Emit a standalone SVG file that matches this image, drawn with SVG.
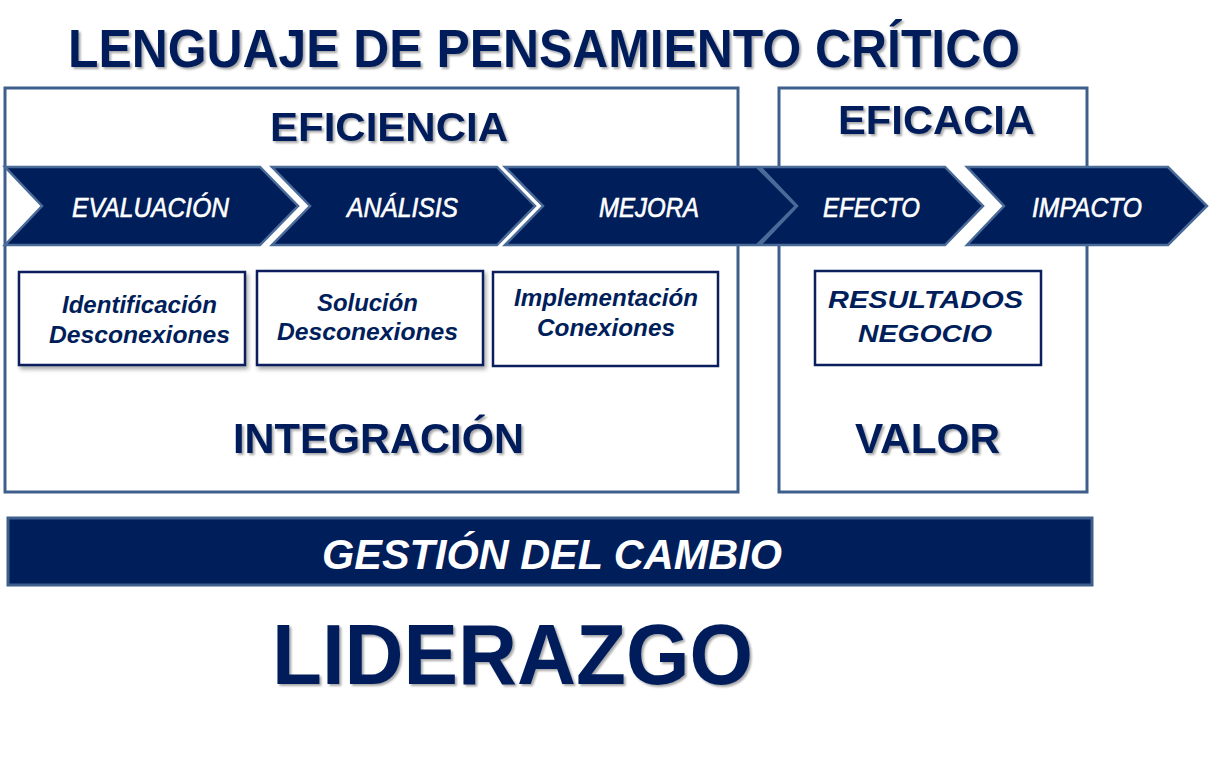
<svg xmlns="http://www.w3.org/2000/svg" width="1210" height="757" viewBox="0 0 1210 757">
<defs>
<filter id="ts" x="-5%" y="-20%" width="110%" height="150%">
<feDropShadow dx="2" dy="2" stdDeviation="1.2" flood-color="#000" flood-opacity="0.35"/>
</filter>
<filter id="bs" x="-5%" y="-5%" width="115%" height="120%">
<feDropShadow dx="2" dy="3" stdDeviation="2" flood-color="#000" flood-opacity="0.35"/>
</filter>
</defs>
<style>
.frame{fill:#fff;stroke:#3E5F8C;stroke-width:3}
.chev{fill:#001E5A;stroke:#4A6A98;stroke-width:2.5;stroke-linejoin:miter}
.box{fill:#fff;stroke:#0A1F5C;stroke-width:2.5}
.head{font-family:"Liberation Sans",Arial,sans-serif;font-weight:bold;fill:#001E5A}
.ct{font-family:"Liberation Sans",Arial,sans-serif;font-style:italic;fill:#fff;font-size:27px;stroke:#fff;stroke-width:0.6}
.bt{font-family:"Liberation Sans",Arial,sans-serif;font-style:italic;font-weight:bold;fill:#001E5A;font-size:23px}
</style>
<rect width="1210" height="757" fill="#fff"/>
<g id="title">
<text class="head" x="68" y="67" font-size="54" textLength="952" lengthAdjust="spacingAndGlyphs" filter="url(#ts)">LENGUAJE DE PENSAMIENTO CRÍTICO</text>
</g>
<g id="eficiencia-frame">
<rect class="frame" x="5" y="88" width="733" height="404"/>
<text class="head" x="270" y="141" font-size="41" textLength="238" lengthAdjust="spacingAndGlyphs" filter="url(#ts)">EFICIENCIA</text>
<text class="head" x="233" y="453" font-size="43" textLength="291" lengthAdjust="spacingAndGlyphs" filter="url(#ts)">INTEGRACIÓN</text>
</g>
<g id="eficacia-frame">
<rect class="frame" x="779" y="88" width="308" height="404"/>
<text class="head" x="838" y="134" font-size="41" textLength="197" lengthAdjust="spacingAndGlyphs" filter="url(#ts)">EFICACIA</text>
<text class="head" x="855" y="453" font-size="43" textLength="145" lengthAdjust="spacingAndGlyphs" filter="url(#ts)">VALOR</text>
</g>
<g id="connectors"></g>
<g id="evaluacion">
<polygon class="chev" points="5,167 260,167 298,206 260,245 5,245 42,206"/>
<text class="ct" x="72" y="217" textLength="157" lengthAdjust="spacingAndGlyphs">EVALUACIÓN</text>
</g>
<g id="analisis">
<polygon class="chev" points="272,167 497,167 535,206 497,245 272,245 310,206"/>
<text class="ct" x="347" y="217" textLength="111" lengthAdjust="spacingAndGlyphs">ANÁLISIS</text>
</g>
<g id="mejora">
<polygon class="chev" points="505,167 757,167 796,206 757,245 505,245 543,206"/>
<text class="ct" x="599" y="217" textLength="100" lengthAdjust="spacingAndGlyphs">MEJORA</text>
</g>
<g id="efecto">
<polygon class="chev" points="760,167 945,167 983,206 945,245 760,245 797,206"/>
<text class="ct" x="823" y="217" textLength="97" lengthAdjust="spacingAndGlyphs">EFECTO</text>
</g>
<g id="impacto">
<polygon class="chev" points="967,167 1168,167 1207,206 1168,245 967,245 1004,206"/>
<text class="ct" x="1032" y="217" textLength="110" lengthAdjust="spacingAndGlyphs">IMPACTO</text>
</g>
<g id="identificacion">
<rect class="box" x="19" y="272" width="226" height="93" filter="url(#bs)"/>
<text class="bt" x="62" y="313" textLength="155" lengthAdjust="spacingAndGlyphs">Identificación</text>
<text class="bt" x="49" y="343" textLength="181" lengthAdjust="spacingAndGlyphs">Desconexiones</text>
</g>
<g id="solucion">
<rect class="box" x="257" y="271" width="226" height="94" filter="url(#bs)"/>
<text class="bt" x="317" y="311" textLength="101" lengthAdjust="spacingAndGlyphs">Solución</text>
<text class="bt" x="277" y="340" textLength="181" lengthAdjust="spacingAndGlyphs">Desconexiones</text>
</g>
<g id="implementacion">
<rect class="box" x="493" y="272" width="225" height="94"/>
<text class="bt" x="514" y="306" textLength="184" lengthAdjust="spacingAndGlyphs">Implementación</text>
<text class="bt" x="537" y="336" textLength="138" lengthAdjust="spacingAndGlyphs">Conexiones</text>
</g>
<g id="resultados">
<rect class="box" x="815" y="271" width="226" height="94"/>
<text class="bt" x="828" y="308" font-size="29" textLength="195" lengthAdjust="spacingAndGlyphs">RESULTADOS</text>
<text class="bt" x="858" y="342" font-size="29" textLength="134" lengthAdjust="spacingAndGlyphs">NEGOCIO</text>
</g>
<g id="gestion">
<rect x="8" y="518" width="1084" height="67" fill="#001E5A" stroke="#3E5F8C" stroke-width="3"/>
<text x="322" y="569" font-family="'Liberation Sans',Arial,sans-serif" font-style="italic" font-weight="bold" font-size="42" fill="#fff" textLength="460" lengthAdjust="spacingAndGlyphs">GESTIÓN DEL CAMBIO</text>
</g>
<g id="liderazgo">
<text class="head" x="272" y="684" font-size="86" textLength="481" lengthAdjust="spacingAndGlyphs" filter="url(#ts)">LIDERAZGO</text>
</g>
</svg>
